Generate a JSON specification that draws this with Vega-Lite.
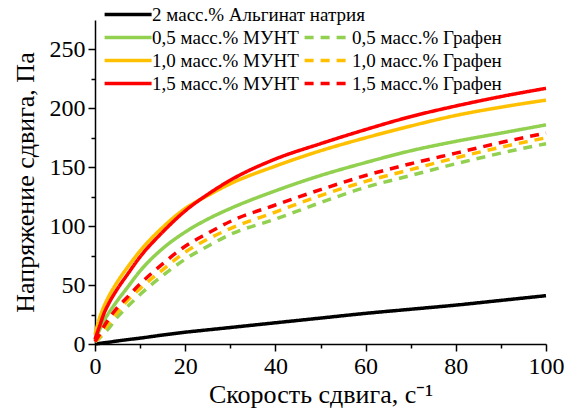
{
  "$schema": "https://vega.github.io/schema/vega-lite/v6.json",
  "width": 451,
  "height": 324,
  "autosize": "none",
  "padding": {"left": 95, "top": 20, "right": 21, "bottom": 68},
  "background": "white",
  "config": {
    "view": {"stroke": null},
    "font": "Liberation Serif",
    "axis": {
      "grid": false,
      "domainColor": "#000000",
      "domainWidth": 1.5,
      "tickColor": "#000000",
      "tickWidth": 1.5,
      "labelFont": "Liberation Serif",
      "labelFontSize": 24,
      "labelColor": "#000000",
      "titleFont": "Liberation Serif",
      "titleFontWeight": "normal",
      "titleColor": "#000000",
      "labelOverlap": false,
      "labelFlush": false
    }
  },
  "data": {
    "values": [
      {"x": 0, "a": 0, "m05": 3, "m10": 8, "m15": 4, "g05": 2, "g10": 2, "g15": 2},
      {"x": 1, "a": 0.5, "m05": 12, "m10": 22, "m15": 15, "g05": 5, "g10": 6, "g15": 8},
      {"x": 2, "a": 1, "m05": 20, "m10": 32, "m15": 26, "g05": 9, "g10": 12, "g15": 15},
      {"x": 3, "a": 1.5, "m05": 26, "m10": 40, "m15": 34, "g05": 13, "g10": 17, "g15": 21},
      {"x": 5, "a": 2.6, "m05": 37, "m10": 53, "m15": 47, "g05": 23, "g10": 27, "g15": 31},
      {"x": 7, "a": 3.6, "m05": 47, "m10": 64, "m15": 58, "g05": 31, "g10": 36, "g15": 39},
      {"x": 10, "a": 5, "m05": 62, "m10": 79, "m15": 74, "g05": 42, "g10": 47, "g15": 51},
      {"x": 15, "a": 7.6, "m05": 81, "m10": 99, "m15": 95, "g05": 58, "g10": 63, "g15": 68},
      {"x": 20, "a": 10, "m05": 95, "m10": 115, "m15": 113, "g05": 72, "g10": 78, "g15": 83},
      {"x": 25, "a": 12, "m05": 106, "m10": 126, "m15": 127, "g05": 83, "g10": 89, "g15": 94},
      {"x": 30, "a": 14, "m05": 115, "m10": 136, "m15": 139, "g05": 93, "g10": 98, "g15": 104},
      {"x": 40, "a": 18, "m05": 130, "m10": 151, "m15": 157, "g05": 106, "g10": 112, "g15": 118},
      {"x": 50, "a": 22, "m05": 143, "m10": 164, "m15": 170, "g05": 120, "g10": 126, "g15": 131},
      {"x": 60, "a": 26, "m05": 154, "m10": 175, "m15": 182, "g05": 133, "g10": 138, "g15": 143},
      {"x": 70, "a": 29.5, "m05": 164, "m10": 185, "m15": 193, "g05": 143, "g10": 148, "g15": 153},
      {"x": 80, "a": 33, "m05": 172, "m10": 194, "m15": 202, "g05": 153, "g10": 158, "g15": 162},
      {"x": 90, "a": 37, "m05": 179, "m10": 201, "m15": 210, "g05": 162, "g10": 167, "g15": 171},
      {"x": 100, "a": 41, "m05": 186, "m10": 207, "m15": 217, "g05": 170, "g10": 175, "g15": 179}
    ]
  },
  "transform": [
    {"fold": ["a", "m05", "m10", "m15", "g05", "g10", "g15"], "as": ["series", "y"]}
  ],
  "mark": {"type": "line", "strokeWidth": 3.5, "strokeCap": "butt", "interpolate": "monotone"},
  "encoding": {
    "x": {
      "field": "x",
      "type": "quantitative",
      "scale": {"domain": [0, 100], "nice": false, "zero": false},
      "axis": {
        "title": "Скорость сдвига, с⁻¹",
        "titleFontSize": 26,
        "titlePadding": 3,
        "values": [0, 10, 20, 30, 40, 50, 60, 70, 80, 90, 100],
        "labelExpr": "datum.value % 20 === 0 ? datum.label : ''",
        "tickSize": {"condition": {"test": "datum.value % 20 === 0", "value": 7}, "value": 4},
        "labelPadding": 3
      }
    },
    "y": {
      "field": "y",
      "type": "quantitative",
      "scale": {"domain": [0, 275], "nice": false},
      "axis": {
        "title": "Напряжение сдвига, Па",
        "titleFontSize": 26,
        "titlePadding": 11,
        "values": [0, 25, 50, 75, 100, 125, 150, 175, 200, 225, 250],
        "labelExpr": "datum.value % 50 === 0 ? datum.label : ''",
        "tickSize": {"condition": {"test": "datum.value % 50 === 0", "value": 7}, "value": 4},
        "labelPadding": 3
      }
    },
    "color": {
      "field": "series",
      "type": "nominal",
      "scale": {
        "domain": ["a", "z", "m05", "g05", "m10", "g10", "m15", "g15"],
        "range": ["#000000", "rgba(0,0,0,0)", "#92d050", "#92d050", "#ffc000", "#ffc000", "#ff0000", "#ff0000"]
      },
      "legend": {
        "title": null,
        "orient": "none",
        "direction": "horizontal",
        "legendX": 23.6,
        "legendY": -15,
        "columns": 2,
        "gridAlign": "none",
        "columnPadding": -68,
        "rowPadding": 3,
        "padding": 0,
        "symbolType": "M-4,0H4",
        "symbolSize": 138,
        "symbolStrokeWidth": 3.5,
        "labelFont": "Liberation Serif",
        "labelFontSize": 19,
        "labelColor": "#000000",
        "labelOffset": 14.5,
        "labelLimit": 400,
        "labelExpr": "datum.value === 'a' ? '2 масс.% Альгинат натрия' : datum.value === 'm05' ? '0,5 масс.% МУНТ' : datum.value === 'g05' ? '0,5 масс.% Графен' : datum.value === 'm10' ? '1,0 масс.% МУНТ' : datum.value === 'g10' ? '1,0 масс.% Графен' : datum.value === 'm15' ? '1,5 масс.% МУНТ' : datum.value === 'g15' ? '1,5 масс.% Графен' : ''"
      }
    },
    "strokeDash": {
      "field": "series",
      "type": "nominal",
      "scale": {
        "domain": ["a", "z", "m05", "g05", "m10", "g10", "m15", "g15"],
        "range": [[1, 0], [1, 0], [1, 0], [9, 7], [1, 0], [9, 7], [1, 0], [9, 7]]
      }
    }
  }
}
